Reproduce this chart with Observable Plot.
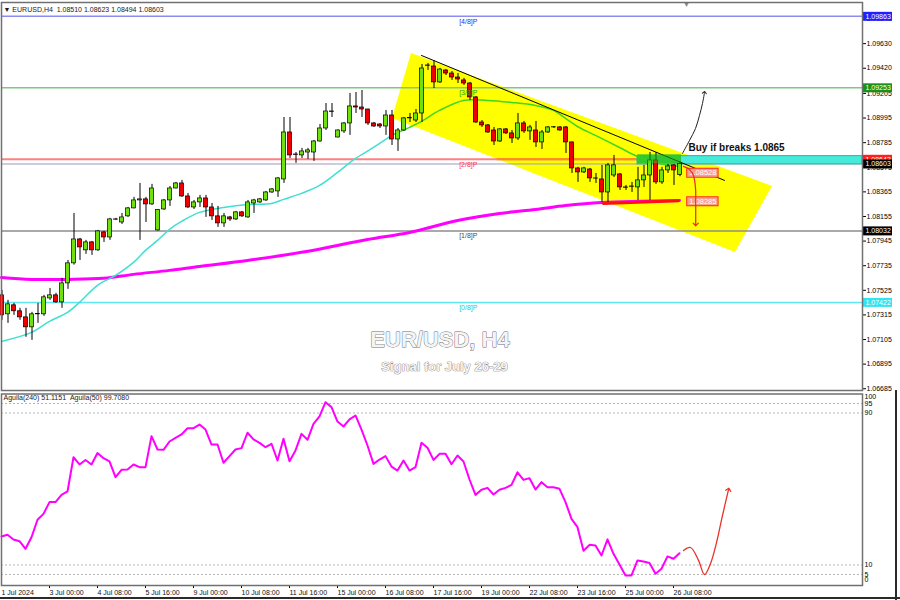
<!DOCTYPE html>
<html><head><meta charset="utf-8">
<script src="https://cdn.jsdelivr.net/npm/d3@7"></script>
<script src="https://cdn.jsdelivr.net/npm/@observablehq/plot@0.6"></script>
<style>
html,body{margin:0;padding:0;background:#fff;}
#wrap{position:relative;width:900px;height:600px;overflow:hidden;background:#fff;}
#main,#ind{position:absolute;left:0;}
#main{top:0;} #ind{top:390px;}
.edge{position:absolute;background:#2a2a2a;}
</style></head><body>
<div id="wrap"><div id="main"></div><div id="ind"></div>
<div class="edge" style="left:0;top:597px;width:900px;height:2px"></div>
<div class="edge" style="left:895px;top:390px;width:2px;height:210px"></div>
</div>
<script>
// ---- candles (H4 bars, index 0 = 1 Jul 16:00) ----
const opens = [1.07482,1.07320,1.07397,1.07346,1.07294,1.07209,1.07320,1.07320,1.07456,1.07482,
1.07422,1.07584,1.07755,1.07959,1.07866,1.07934,1.07866,1.08019,1.07976,1.08130,
1.08104,1.08156,1.08224,1.08292,1.08301,1.08258,1.08036,1.08215,1.08292,1.08394,
1.08437,1.08326,1.08232,1.08275,1.08309,1.08232,1.08156,1.08096,1.08147,1.08130,
1.08190,1.08147,1.08266,1.08275,1.08292,1.08360,1.08369,1.08471,1.08872,1.08684,
1.08676,1.08701,1.08701,1.08795,1.08906,1.09051,1.08829,1.08881,1.08949,1.09094,
1.09085,1.09068,1.08949,1.08940,1.08923,1.09017,1.08812,1.08889,1.08992,1.08974,
1.09034,1.09440,1.09435,1.09299,1.09401,1.09375,1.09341,1.09316,1.09290,1.09171,
1.08957,1.08932,1.08889,1.08795,1.08898,1.08864,1.08821,1.08949,1.08881,1.08889,
1.08787,1.08872,1.08915,1.08915,1.08915,1.08787,1.08565,1.08531,1.08556,1.08480,
1.08471,1.08360,1.08505,1.08514,1.08403,1.08408,1.08403,1.08463,1.08505,1.08633,
1.08446,1.08548,1.08591,1.08510];
const highs = [1.07524,1.07439,1.07414,1.07371,1.07371,1.07337,1.07414,1.07482,1.07541,1.07499,
1.07627,1.07780,1.08181,1.07968,1.07951,1.07942,1.08036,1.08028,1.08139,1.08139,
1.08181,1.08232,1.08318,1.08437,1.08318,1.08429,1.08215,1.08300,1.08411,1.08446,
1.08463,1.08352,1.08292,1.08335,1.08335,1.08266,1.08241,1.08181,1.08156,1.08198,
1.08198,1.08292,1.08301,1.08309,1.08369,1.08394,1.08488,1.09000,1.09000,1.08701,
1.08736,1.08736,1.08804,1.08940,1.09119,1.09119,1.08895,1.08957,1.09205,1.09213,
1.09230,1.09070,1.08957,1.08949,1.09060,1.09060,1.08906,1.09000,1.09034,1.09068,
1.09452,1.09461,1.09486,1.09418,1.09409,1.09392,1.09375,1.09333,1.09299,1.09179,
1.08974,1.08940,1.08915,1.08906,1.08906,1.08889,1.09034,1.08966,1.08932,1.08966,
1.08889,1.08923,1.08923,1.08923,1.08923,1.08790,1.08574,1.08574,1.08565,1.08522,
1.08591,1.08608,1.08676,1.08522,1.08420,1.08446,1.08574,1.08591,1.08701,1.08701,
1.08574,1.08599,1.08599,1.08623];
const lows = [1.07269,1.07243,1.07311,1.07269,1.07124,1.07098,1.07243,1.07303,1.07439,1.07414,
1.07371,1.07533,1.07740,1.07780,1.07832,1.07823,1.07857,1.07934,1.07951,1.08121,
1.08087,1.08147,1.08220,1.07951,1.08104,1.08249,1.08030,1.08207,1.08241,1.08390,
1.08318,1.08224,1.08215,1.08232,1.08147,1.08121,1.08062,1.08062,1.08113,1.08121,
1.08147,1.08140,1.08181,1.08266,1.08283,1.08352,1.08318,1.08437,1.08650,1.08608,
1.08650,1.08642,1.08625,1.08790,1.08889,1.09000,1.08825,1.08864,1.08847,1.09034,
1.09000,1.08932,1.08915,1.08906,1.08847,1.08761,1.08710,1.08881,1.08957,1.08957,
1.08957,1.09401,1.09247,1.09290,1.09358,1.09316,1.09290,1.09273,1.09145,1.08949,
1.08915,1.08864,1.08761,1.08787,1.08855,1.08778,1.08804,1.08864,1.08804,1.08744,
1.08727,1.08864,1.08906,1.08881,1.08693,1.08522,1.08446,1.08522,1.08446,1.08437,
1.08275,1.08275,1.08488,1.08377,1.08377,1.08360,1.08292,1.08403,1.08292,1.08429,
1.08429,1.08522,1.08420,1.08494];
const closes = [1.07311,1.07405,1.07346,1.07294,1.07209,1.07320,1.07322,1.07465,1.07482,1.07422,
1.07584,1.07755,1.07959,1.07891,1.07934,1.07866,1.08028,1.07976,1.08130,1.08128,
1.08147,1.08224,1.08292,1.08301,1.08258,1.08394,1.08210,1.08292,1.08394,1.08437,
1.08326,1.08232,1.08275,1.08309,1.08232,1.08156,1.08096,1.08156,1.08130,1.08190,
1.08156,1.08275,1.08292,1.08301,1.08360,1.08386,1.08480,1.08872,1.08676,1.08680,
1.08710,1.08719,1.08795,1.08906,1.09051,1.09047,1.08889,1.08949,1.09094,1.09085,
1.09068,1.08949,1.08923,1.08923,1.09017,1.08812,1.08889,1.08992,1.08995,1.09034,
1.09418,1.09444,1.09299,1.09409,1.09375,1.09341,1.09324,1.09290,1.09171,1.08957,
1.08932,1.08872,1.08795,1.08898,1.08864,1.08821,1.08949,1.08881,1.08915,1.08787,
1.08872,1.08915,1.08917,1.08889,1.08787,1.08565,1.08531,1.08565,1.08480,1.08478,
1.08360,1.08591,1.08591,1.08403,1.08400,1.08411,1.08463,1.08505,1.08633,1.08446,
1.08548,1.08582,1.08548,1.08603];

// ---- moving averages (sampled at bar index) ----
const maFastIdx = [0,5,8,11,13,16,19,22,24,26,28,30,33,37,41,45,47,50,53,56,59,62,65,68,70,73,77,81,85,89,92,94,96,99,103,106,109,113];
const maFastVal = [1.07089,1.07166,1.07260,1.07337,1.07422,1.07567,1.07652,1.07763,1.07866,1.07951,
1.08045,1.08113,1.08190,1.08232,1.08258,1.08266,1.08301,1.08352,1.08420,1.08531,
1.08650,1.08744,1.08847,1.08915,1.08966,1.09060,1.09145,1.09145,1.09128,1.09102,
1.09060,1.08992,1.08923,1.08847,1.08744,1.08667,1.08616,1.08582];
const maSlowIdx = [0,5,11,17,22,28,33,41,50,61,68,76,83,89,94,100,113];
const maSlowVal = [1.07635,1.07618,1.07618,1.07627,1.07661,1.07695,1.07729,1.07780,1.07849,1.07959,1.08019,1.08121,1.08181,1.08215,1.08249,1.08275,1.08292];

// ---- oscillator (Aguila) ----
const aguila = [25.0,25.9,23.4,22.5,18.5,24.6,33.8,36.9,43.1,43.1,
46.9,48.7,66.7,62.9,65.3,62.9,68.9,66.2,64.5,56.2,
60.1,60.3,62.9,61.5,61.5,77.8,70.8,70.6,75.0,76.9,
78.7,82.0,82.0,83.9,81.3,73.4,73.4,63.8,67.3,70.8,
71.5,79.6,76.1,74.3,72.0,73.8,65.0,76.4,64.6,70.3,
79.0,75.9,84.3,88.2,95.7,93.1,85.5,82.9,86.6,88.7,
81.3,72.9,63.2,65.5,67.3,61.8,59.7,65.0,59.7,61.5,
74.3,71.7,65.3,68.5,68.5,63.0,67.6,64.5,55.0,46.9,
49.6,50.6,47.1,49.6,50.6,52.2,58.8,54.8,55.7,49.7,
53.6,50.9,50.9,50.1,43.1,34.3,29.9,17.5,20.6,20.3,
15.0,23.5,15.9,10.3,4.5,4.5,12.4,11.8,11.0,5.4,
8.0,14.5,13.3,16.2];
const aguilaLevels = [95,90,10,5];
const aguilaAxis = [95,90,10,5];

// ---- levels and tags ----
const yTicks = [1.09840,1.09630,1.09420,1.09205,1.08995,1.08785,1.08575,1.08365,1.08155,1.07945,1.07735,1.07525,1.07315,1.07105,1.06895,1.06685];
const levelPrices = [1.09863,1.09253,1.08643,1.08032,1.07422];
const levelNames = ["[4/8]P","[3/8]P","[2/8]P","[1/8]P","[0/8]P"];
const levelLineColors = ["#8c8cf2","#80c880","#ff8080","#8c8c8c","#5ee8f2"];
const levelTextColors = ["#2a2aff","#1f9f1f","#ff3a3a","#4a4a4a","#20c8dc"];
const lastPrice = 1.08603;
const tagPrices = [1.09863,1.09253,1.08643,1.08603,1.08032,1.07422];
const tagColors = ["#1f1fff","#18901a","#ff1f1f","#000000","#000000","#30e4f0"];

// ---- drawings ----
// channel corners: top-left, top-right, bottom-right, bottom-left
const channelIdx = [68.33,128.5,122.33,65.17];
const channelPx = [1.09546,1.08411,1.07848,1.08992];
const trendIdx = [70,120.5];
const trendPx = [1.09529,1.08463];
const supportIdx = [100.3,112.8];
const supportPx = [1.08266,1.08290];
const bandIdx = [106,143.5];
const bandPx = [1.08600,1.08670];
const boxIdx = [106,113.33];
const boxPx = [1.08605,1.08680];
const upArrowIdx = [113.5,114.67,115.67,116.33,116.83,117.17];
const upArrowPx = [1.08693,1.08804,1.08906,1.09017,1.09119,1.09213];
const downArrowIdx = [113.67,114.67,115.33,115.67,115.7,115.7];
const downArrowPx = [1.08582,1.08556,1.08505,1.08394,1.08249,1.08087];
const noteTags = [1.08528,1.08285];
const oscArrowIdx = [113.67,114.83,116.17,117.17,118.17,119.17,120.17,121.17];
const oscArrowVal = [17.6,19.2,12.4,5.0,10.8,21.8,36.1,49.7];
const xTickIdx = [0,8,16,24,32,40,48,56,64,72,80,88,96,104,112];
const xLabels = ["1 Jul 2024","3 Jul 00:00","4 Jul 08:00","5 Jul 16:00","9 Jul 00:00","10 Jul 08:00","11 Jul 16:00","15 Jul 00:00","16 Jul 08:00","17 Jul 16:00","19 Jul 00:00","22 Jul 08:00","23 Jul 16:00","25 Jul 00:00","26 Jul 08:00"];

const FONT = "'Liberation Sans', Arial, sans-serif";
const candles = opens.map((o,i)=>({i,o,h:highs[i],l:lows[i],c:closes[i]}));
const bull = candles.filter(d=>d.c>=d.o), bear = candles.filter(d=>d.c<d.o);
const pts = (xs,ys)=>xs.map((x,i)=>({x,y:ys[i]}));

// channel quad as a vertical-band area
const [TL,TR,BR,BL] = pts(channelIdx,channelPx);
const lerp = (a,b,x)=>a.y+(b.y-a.y)*(x-a.x)/(b.x-a.x);
const xAt = (a,b,y)=>a.x+(b.x-a.x)*(y-a.y)/(b.y-a.y);
const channelRows = [
  {x:BL.x,y1:BL.y,y2:BL.y},
  {x:TL.x,y1:lerp(BL,BR,TL.x),y2:TL.y},
  {x:BR.x,y1:BR.y,y2:lerp(TL,TR,BR.x)},
  {x:TR.x,y1:TR.y,y2:TR.y}
];
// where the [2/8] level runs inside the channel (tinted there)
const lvl2In = [xAt(BL,BR,levelPrices[2]), xAt(TL,TR,levelPrices[2])];
const fastPts = pts(maFastIdx,maFastVal);
const fastOut = fastPts.filter(d=>d.x<=65);
const fastIn = fastPts.filter(d=>d.x>=65);

const M = [];
// yellow channel underlay
M.push(Plot.area(channelRows,{x1:"x",y1:"y1",y2:"y2",fill:"#ffff00"}));
levelPrices.forEach((p,i)=>M.push(Plot.ruleY([p],{stroke:levelLineColors[i],strokeWidth:i===2?2:1.5})));
M.push(Plot.ruleY([levelPrices[2]],{x1:()=>lvl2In[0],x2:()=>lvl2In[1],stroke:"#ff8a10",strokeWidth:2}));
M.push(Plot.ruleY([lastPrice],{stroke:"#9a9ac4",strokeWidth:1}));
M.push(Plot.rect([0],{x1:()=>bandIdx[0],x2:()=>bandIdx[1],y1:()=>bandPx[0],y2:()=>bandPx[1],fill:"#46ead8",stroke:"#12bfae",strokeWidth:1}));
M.push(Plot.rect([0],{x1:()=>boxIdx[0],x2:()=>boxIdx[1],y1:()=>boxPx[0],y2:()=>boxPx[1],fill:"#30c830"}));
M.push(Plot.line(pts(maSlowIdx,maSlowVal),{x:"x",y:"y",stroke:"#ff00ff",strokeWidth:3,curve:"catmull-rom"}));
M.push(Plot.line(fastOut,{x:"x",y:"y",stroke:"#40e0d0",strokeWidth:1.5,curve:"catmull-rom"}));
M.push(Plot.line(fastIn,{x:"x",y:"y",stroke:"#3cd81c",strokeWidth:1.5,curve:"catmull-rom"}));
M.push(Plot.ruleX(candles,{x:"i",y1:"l",y2:"h",stroke:"#000",strokeWidth:1,dx:0.5}));
M.push(Plot.rect(bull,{x1:d=>d.i-0.25,x2:d=>d.i+0.417,y1:"o",y2:"c",fill:"#72e010",stroke:"#000",strokeWidth:0.7}));
M.push(Plot.rect(bear,{x1:d=>d.i-0.25,x2:d=>d.i+0.417,y1:"o",y2:"c",fill:"#ee0000",stroke:"#000",strokeWidth:0.7}));
M.push(Plot.line(pts(supportIdx,supportPx),{x:"x",y:"y",stroke:"#ff1010",strokeWidth:3}));
M.push(Plot.line(pts(trendIdx,trendPx),{x:"x",y:"y",stroke:"#000",strokeWidth:1}));
// multiply overlays (tint what lies beneath, if blending is available)
M.push(Plot.rect([0],{x1:()=>boxIdx[0],x2:()=>boxIdx[1],y1:()=>boxPx[0],y2:()=>boxPx[1],fill:"#30c830",fillOpacity:0.5,ariaLabel:"blendbox"}));
M.push(Plot.area(channelRows,{x1:"x",y1:"y1",y2:"y2",fill:"#ffff00",ariaLabel:"blendchannel"}));
levelPrices.forEach((p,i)=>M.push(Plot.text([p],{x:()=>77.8,y:d=>d,text:()=>levelNames[i],fill:levelTextColors[i],dy:5,fontSize:7,lineAnchor:"middle"})));
// axis tags
tagPrices.forEach((p,i)=>{
  M.push(Plot.ruleY([p],{x1:()=>143.67,x2:()=>148.5,stroke:tagColors[i],strokeWidth:9}));
  M.push(Plot.text([p],{y:d=>d,text:d=>d.toFixed(5),frameAnchor:"right",dx:3,textAnchor:"start",lineAnchor:"middle",fill:"#fff",fontSize:7}));
});
// note tags on chart
noteTags.forEach(p=>{
  M.push(Plot.ruleY([p],{x1:()=>114.2,x2:()=>119.6,stroke:"#ff2a2a",strokeWidth:10}));
  M.push(Plot.ruleY([p],{x1:()=>114.37,x2:()=>119.43,stroke:"#f9a08a",strokeWidth:8}));
  M.push(Plot.text([p],{x:()=>116.9,y:d=>d,text:d=>d.toFixed(5),fill:"#fff",fontSize:7.5,lineAnchor:"middle"}));
});
M.push(Plot.line(pts(upArrowIdx,upArrowPx),{x:"x",y:"y",stroke:"#222",strokeWidth:1,curve:"catmull-rom",markerEnd:"arrow"}));
M.push(Plot.line(pts(downArrowIdx,downArrowPx),{x:"x",y:"y",stroke:"#e8322a",strokeWidth:1.3,curve:"catmull-rom",markerEnd:"arrow"}));
M.push(Plot.text(["Buy if breaks 1.0865"],{x:()=>114.5,y:()=>1.08740,text:d=>d,textAnchor:"start",lineAnchor:"middle",fontSize:10,fontWeight:"bold",fill:"#111"}));
M.push(Plot.text(["EUR/USD, H4"],{frameAnchor:"top-left",dx:438.5,dy:337.5,text:d=>d,textAnchor:"middle",lineAnchor:"middle",fontSize:22,fontWeight:"bold",fill:"#f4f4f4",stroke:"#6e6e6e",strokeWidth:0.9,ariaLabel:"titletext"}));
M.push(Plot.text(["Signal for July 26-29"],{frameAnchor:"top-left",dx:443,dy:364.5,text:d=>d,textAnchor:"middle",lineAnchor:"middle",fontSize:13,fontWeight:"bold",fill:"#f4f4f4",stroke:"#6e6e6e",strokeWidth:0.7,ariaLabel:"titletext"}));
M.push(Plot.text(["\u25BC EURUSD,H4\u00a0\u00a01.08510 1.08623 1.08494 1.08603"],{frameAnchor:"top-left",dx:2,dy:7,text:d=>d,textAnchor:"start",lineAnchor:"middle",fontSize:7,fill:"#1a1a1a"}));
M.push(Plot.text(["\u25BC"],{frameAnchor:"top-left",dx:685,dy:2,text:d=>d,textAnchor:"middle",lineAnchor:"middle",fontSize:7,fill:"#888"}));
M.push(Plot.frame({stroke:"#707070",strokeWidth:1.5}));

const main = Plot.plot({
  width:900,height:392,marginLeft:1,marginRight:38,marginTop:2,marginBottom:2,
  style:{fontFamily:FONT,fontSize:"7px",background:"#fff",color:"#000"},
  x:{domain:[0,143.5],axis:null},
  y:{domain:[1.06670,1.09981],axis:"right",ticks:yTicks,tickFormat:d=>d.toFixed(5),tickSize:3,tickPadding:1,label:null},
  marks:M
});
document.getElementById("main").appendChild(main);
main.querySelectorAll('[aria-label="blendbox"],[aria-label="blendchannel"]').forEach(g=>{g.style.mixBlendMode="multiply";g.setAttribute("style",(g.getAttribute("style")||"")+";mix-blend-mode:multiply");});
main.querySelectorAll('[aria-label="titletext"]').forEach(g=>g.style.filter="drop-shadow(1.5px 1.5px 0.6px #666)");

// ---- indicator pane ----
const I = [];
I.push(Plot.ruleY(aguilaLevels,{stroke:"#b4b4b4",strokeDasharray:"2,2",strokeWidth:1}));
I.push(Plot.line(aguila.map((v,i)=>({i,v})),{x:"i",y:"v",stroke:"#ff00ff",strokeWidth:2}));
I.push(Plot.line(pts(oscArrowIdx,oscArrowVal),{x:"x",y:"y",stroke:"#e8322a",strokeWidth:1.3,curve:"catmull-rom",markerEnd:"arrow"}));
I.push(Plot.text(["Aguila(240) 51.1151\u00a0\u00a0Aguila(50) 99.7080"],{frameAnchor:"top-left",dx:2,dy:4,text:d=>d,textAnchor:"start",lineAnchor:"middle",fontSize:7,fill:"#1a1a1a"}));
I.push(Plot.text(aguilaAxis,{y:d=>d,text:d=>String(d),frameAnchor:"right",dx:2,textAnchor:"start",lineAnchor:"middle",fontSize:7}));
I.push(Plot.text([100],{y:d=>d,text:d=>String(d),frameAnchor:"right",dx:2,dy:3,textAnchor:"start",lineAnchor:"middle",fontSize:7}));
I.push(Plot.text([0],{y:d=>d,text:d=>String(d),frameAnchor:"right",dx:2,dy:-4.5,textAnchor:"start",lineAnchor:"middle",fontSize:7}));
I.push(Plot.text(xTickIdx.map((k,i)=>({k,t:xLabels[i]})),{x:"k",text:"t",frameAnchor:"bottom",dy:7.5,textAnchor:"start",lineAnchor:"middle",fontSize:7,fill:"#111"}));
I.push(Plot.frame({stroke:"#707070",strokeWidth:1.5}));

const ind = Plot.plot({
  width:900,height:210,marginLeft:1,marginRight:38,marginTop:3.5,marginBottom:15,
  style:{fontFamily:FONT,fontSize:"7px",background:"transparent",color:"#000"},
  x:{domain:[0,143.5],axis:"bottom",ticks:xTickIdx.slice(1),tickSize:3,tickFormat:()=>"",label:null},
  y:{domain:[-0.8,100],axis:null},
  marks:I
});
document.getElementById("ind").appendChild(ind);
</script></body></html>
